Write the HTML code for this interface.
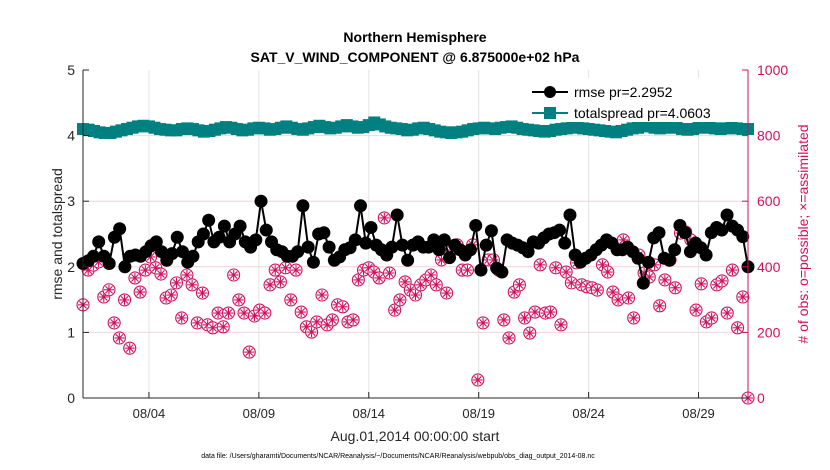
<!DOCTYPE html>
<html><head><meta charset="utf-8"><style>
body{margin:0;background:#fff;font-family:"Liberation Sans",sans-serif}
svg{display:block}
</style></head><body>
<svg id="chart" width="830" height="470" xmlns="http://www.w3.org/2000/svg">
<rect width="830" height="470" fill="#fff"/>
<text x="415" y="42" text-anchor="middle" font-size="14" font-weight="bold">Northern Hemisphere</text>
<text x="415" y="62" text-anchor="middle" font-size="14" font-weight="bold">SAT_V_WIND_COMPONENT @ 6.875000e+02 hPa</text>
<g id="grid"></g>
<g id="series"></g>
<g id="axes"></g>
<text x="415" y="441" text-anchor="middle" font-size="14" fill="#262626">Aug.01,2014 00:00:00 start</text>
<text transform="translate(62,234) rotate(-90)" text-anchor="middle" font-size="14" fill="#262626">rmse and totalspread</text>
<text transform="translate(808,234) rotate(-90)" text-anchor="middle" font-size="14" fill="#d0105f"># of obs: o=possible; ×=assimilated</text>
<text x="398" y="458" text-anchor="middle" font-size="7" fill="#000">data file: /Users/gharamti/Documents/NCAR/Reanalysis/~/Documents/NCAR/Reanalysis/webpub/obs_diag_output_2014-08.nc</text>
<g>
<rect x="527" y="78" width="214" height="44" fill="#fff"/>
<line x1="532" y1="92" x2="568" y2="92" stroke="#000" stroke-width="2"/>
<circle cx="550" cy="92" r="6" fill="#000"/>
<text x="574" y="97" font-size="14">rmse pr=2.2952</text>
<line x1="532" y1="113" x2="568" y2="113" stroke="#008080" stroke-width="2"/>
<rect x="544" y="107" width="12" height="12" fill="#008080"/>
<text x="574" y="118" font-size="14">totalspread pr=4.0603</text>
</g>
</svg>
<script>
const xTickLabels=["08/04","08/09","08/14","08/19","08/24","08/29"];
const xTickDays=[3,8,13,18,23,28];
const leftTicks=[0,1,2,3,4,5];
const rightTicks=[0,200,400,600,800,1000];
const rmse=[2.05,2.09,2.16,2.38,2.16,2.05,2.45,2.58,2.0,2.16,2.18,2.16,2.23,2.32,2.38,2.23,2.1,2.2,2.45,2.23,2.07,2.16,2.38,2.5,2.71,2.38,2.45,2.62,2.38,2.5,2.62,2.38,2.3,2.41,3.0,2.56,2.38,2.26,2.23,2.16,2.16,2.23,2.93,2.3,2.07,2.5,2.52,2.3,2.1,2.15,2.26,2.29,2.41,2.93,2.36,2.6,2.33,2.26,2.18,2.3,2.79,2.33,2.1,2.33,2.38,2.3,2.3,2.41,2.26,2.41,2.14,2.33,2.26,2.18,2.26,2.63,1.95,2.33,2.55,1.98,1.92,2.41,2.36,2.33,2.29,2.23,2.38,2.36,2.44,2.5,2.52,2.56,2.36,2.79,2.18,2.07,2.13,2.18,2.26,2.33,2.41,2.36,2.26,2.26,2.3,2.23,2.13,1.75,2.07,2.44,2.52,2.13,2.1,2.26,2.63,2.52,2.23,2.36,2.29,2.18,2.52,2.6,2.56,2.79,2.62,2.56,2.46,2.0];
const totalspread=[4.1,4.09,4.07,4.05,4.04,4.04,4.06,4.08,4.1,4.12,4.14,4.15,4.14,4.12,4.1,4.09,4.08,4.08,4.1,4.11,4.1,4.08,4.06,4.07,4.09,4.11,4.13,4.12,4.1,4.08,4.09,4.11,4.12,4.11,4.09,4.1,4.12,4.14,4.12,4.1,4.09,4.11,4.13,4.15,4.13,4.11,4.12,4.14,4.16,4.14,4.12,4.13,4.16,4.2,4.17,4.14,4.12,4.11,4.1,4.08,4.09,4.11,4.12,4.1,4.08,4.06,4.05,4.04,4.05,4.06,4.08,4.1,4.11,4.12,4.11,4.1,4.12,4.13,4.14,4.12,4.1,4.09,4.08,4.07,4.06,4.07,4.09,4.1,4.11,4.12,4.13,4.11,4.1,4.09,4.08,4.07,4.06,4.05,4.07,4.09,4.11,4.12,4.15,4.14,4.12,4.11,4.12,4.13,4.12,4.1,4.09,4.1,4.12,4.13,4.12,4.11,4.1,4.11,4.12,4.11,4.1,4.1];
const obsCount=[284,390,405,415,308,330,229,183,299,152,366,323,390,430,397,378,305,314,351,244,375,345,229,320,223,214,259,217,259,375,299,259,140,250,268,259,345,390,354,397,299,390,262,217,201,232,314,223,238,284,278,232,238,360,390,397,384,366,549,381,268,299,354,329,314,345,360,375,345,421,320,451,467,390,390,467,55,229,421,421,390,238,183,323,345,244,198,262,406,259,262,397,223,384,351,412,345,339,336,329,406,384,323,299,482,305,244,436,381,369,406,281,360,421,336,503,506,482,268,348,232,244,345,357,259,390,214,308,0];
const NS="http://www.w3.org/2000/svg";
const X0=83,X1=748,Y0=398,Y1=70,DAYS=30.25;
const xScale=d=>X0+d*(X1-X0)/DAYS;
const yL=v=>Y0-v*(Y0-Y1)/5;
const yR=v=>Y0-v*(Y0-Y1)/1000;
function mk(tag,attrs,parent){const e=document.createElementNS(NS,tag);for(const k in attrs)e.setAttribute(k,attrs[k]);parent.appendChild(e);return e;}
const grid=document.getElementById('grid'),axes=document.getElementById('axes'),ser=document.getElementById('series');
xTickDays.forEach((d,i)=>{
 const x=xScale(d);
 const g=mk('line',{x1:x,y1:Y1,x2:x,y2:Y0,stroke:'#e3e3e3','stroke-width':1},grid);
 
 
 mk('line',{x1:x,y1:Y0,x2:x,y2:Y0-6,stroke:'#262626'},axes);
 const t=mk('text',{x:x,y:Y0+20,'text-anchor':'middle','font-size':13,fill:'#262626'},axes);
 t.textContent=xTickLabels[i];
 
 
});
leftTicks.forEach(v=>{
 const y=yL(v);
 if(v>0&&v<5){const g=mk('line',{x1:X0,y1:y,x2:X1,y2:y,stroke:'#f0d4de','stroke-width':1},grid);
 
 }
 mk('line',{x1:X0,y1:y,x2:X0+6,y2:y,stroke:'#262626'},axes);
 const t=mk('text',{x:X0-8,y:y+5,'text-anchor':'end','font-size':14,fill:'#262626'},axes);
 t.textContent=v;
 
 
});
rightTicks.forEach(v=>{
 const y=yR(v);
 mk('line',{x1:X1,y1:y,x2:X1-6,y2:y,stroke:'#d0105f'},axes);
 const t=mk('text',{x:X1+9,y:y+5,'font-size':14,fill:'#d0105f'},axes);
 t.textContent=v;
 
 
});
mk('line',{x1:X0,y1:Y1,x2:X0,y2:Y0,stroke:'#262626','stroke-width':1},axes);
mk('line',{x1:X0,y1:Y0,x2:X1,y2:Y0,stroke:'#262626','stroke-width':1},axes);
mk('line',{x1:X1,y1:Y1,x2:X1,y2:Y0,stroke:'#d0105f','stroke-width':1},axes);
obsCount.forEach((v,i)=>{
 const x=xScale(i*DAYS/(obsCount.length-1)),y=yR(v);
 const g=mk('g',{stroke:'#d0105f','stroke-width':1.1,fill:'none'},ser);
 
 
 mk('circle',{cx:x,cy:y,r:6,fill:'#fff'},g);
 for(let a=0;a<4;a++){const t=a*Math.PI/4,dx=5*Math.cos(t),dy=5*Math.sin(t);mk('line',{x1:x-dx,y1:y-dy,x2:x+dx,y2:y+dy},g);}
});
const tsPts=totalspread.map((v,i)=>[xScale(i*DAYS/(totalspread.length-1)),yL(v)]);
const tsl=mk('polyline',{points:tsPts.map(p=>p.join(',')).join(' '),fill:'none',stroke:'#008080','stroke-width':2},ser);


tsPts.forEach(p=>{const r=mk('rect',{x:p[0]-6,y:p[1]-6,width:12,height:12,fill:'#008080'},ser);
 
 });
const rPts=rmse.map((v,i)=>[xScale(i*DAYS/(rmse.length-1)),yL(v)]);
const rl=mk('polyline',{points:rPts.map(p=>p.join(',')).join(' '),fill:'none',stroke:'#000','stroke-width':2},ser);


rPts.forEach(p=>{const c=mk('circle',{cx:p[0],cy:p[1],r:6.5,fill:'#000'},ser);
 
 });
</script>
</body></html>
